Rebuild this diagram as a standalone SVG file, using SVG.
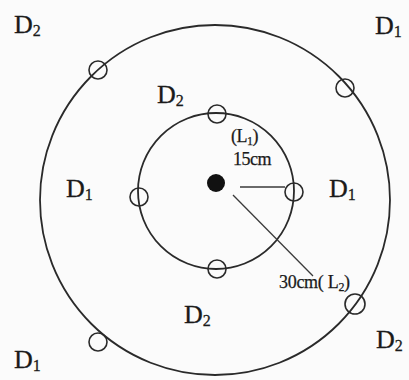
<svg xmlns="http://www.w3.org/2000/svg" width="409" height="380" viewBox="0 0 409 380">
<style>
.ring{fill:none;stroke:#2a2a2a;stroke-width:1.8}
.pt{fill:none;stroke:#2a2a2a;stroke-width:1.6}
.ln{stroke:#3a3a3a;stroke-width:1.3}
.lb{font-family:"Liberation Serif","Times New Roman",serif;font-size:26px;fill:#1a1a1a;stroke:#1a1a1a;stroke-width:0.3}
.sub{font-size:16px}
.sm{font-family:"Liberation Serif","Times New Roman",serif;font-size:18px;fill:#1a1a1a;stroke:#1a1a1a;stroke-width:0.25}
</style>
<rect width="409" height="380" fill="#fbfbfb"/>
<g id="rings">
<circle class="ring" cx="215" cy="200" r="175"/>
<circle class="ring" cx="216" cy="191" r="78"/>
</g>
<g id="connectors">
<line class="ln" x1="240" y1="187" x2="285" y2="187"/>
<line class="ln" x1="233" y1="195" x2="313" y2="276"/>
</g>
<g id="source"><circle cx="216" cy="183" r="9" fill="#111"/></g>
<g id="inner-points">
<circle class="pt" cx="217" cy="114" r="9"/>
<circle class="pt" cx="139" cy="197" r="9"/>
<circle class="pt" cx="294" cy="192" r="9"/>
<circle class="pt" cx="217" cy="269" r="9"/>
</g>
<g id="outer-points">
<circle class="pt" cx="98" cy="70" r="9"/>
<circle class="pt" cx="345" cy="88" r="9"/>
<circle class="pt" cx="355" cy="304" r="10"/>
<circle class="pt" cx="98" cy="342" r="9"/>
</g>
<g id="labels">
<text class="lb" x="14" y="33">D<tspan class="sub" dy="3">2</tspan></text>
<text class="lb" x="375" y="34">D<tspan class="sub" dy="3">1</tspan></text>
<text class="lb" x="157" y="103">D<tspan class="sub" dy="3">2</tspan></text>
<text class="lb" x="66" y="197">D<tspan class="sub" dy="3">1</tspan></text>
<text class="lb" x="329" y="197">D<tspan class="sub" dy="3">1</tspan></text>
<text class="lb" x="184" y="323">D<tspan class="sub" dy="3">2</tspan></text>
<text class="lb" x="376" y="348">D<tspan class="sub" dy="3">2</tspan></text>
<text class="lb" x="14" y="368">D<tspan class="sub" dy="3">1</tspan></text>
<text class="sm" x="231" y="142" letter-spacing="-0.5">(L<tspan font-size="12" dy="3">1</tspan><tspan dy="-3">)</tspan></text>
<text class="sm" x="233" y="165" letter-spacing="-0.5">15cm</text>
<text class="sm" x="279" y="288" letter-spacing="-0.3">30cm( L<tspan font-size="12" dy="3">2</tspan><tspan dy="-3">)</tspan></text>
</g>
</svg>
